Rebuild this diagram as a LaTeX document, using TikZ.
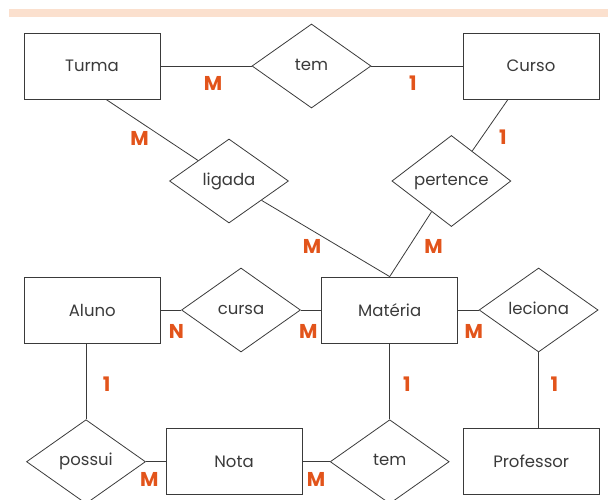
\documentclass[tikz,border=0pt]{standalone}
\usepackage{fontspec}
\setmainfont{Poppins}
\usepackage{tikz}
\usetikzlibrary{shapes.geometric,positioning}

\definecolor{bandpeach}{HTML}{FBE0CE}
\definecolor{cardorange}{HTML}{E2541B}
\definecolor{inkgray}{HTML}{3A3A3A}

\begin{document}
\begin{tikzpicture}[x=1pt,y=-1pt,node font=\fontsize{16.5}{18}\selectfont,
    entity/.style={draw=inkgray, line width=0.8pt, text=inkgray, minimum width=136pt, minimum height=66pt, inner sep=0pt},
    relation/.style={draw=inkgray, line width=0.8pt, text=inkgray, diamond, minimum width=119pt, minimum height=84pt, inner sep=0pt, text height=0.75em, text depth=0.25em},
    link/.style={draw=inkgray, line width=0.8pt},
    card/.style={text=cardorange, font=\fontsize{20}{22}\selectfont\bfseries, inner sep=0pt}]
    \useasboundingbox (0,0) rectangle (608,499);
    \clip (0,0) rectangle (608,499);
    %
    \fill[bandpeach] (8.5,9.3) rectangle (608,16.7);
    %
    % top row
    \node[entity] (turma) at (92,66) {Turma};
    \node[relation] (tem1) at (311.5,66) {tem};
    \node[entity] (curso) at (531,66) {Curso};
    %
    \node[relation] (ligada) at (229,181) {ligada};
    \node[relation] (pertence) at (451.4,181) {pertence};
    %
    % middle row
    \node[entity] (aluno) at (92.3,310) {Aluno};
    \node[relation] (cursa) at (241,310) {cursa};
    \node[entity] (materia) at (389.7,310) {Matéria};
    \node[relation] (leciona) at (538.6,310) {leciona};
    %
    % bottom row
    \node[relation] (possui) at (86,461.7) {possui};
    \node[entity] (nota) at (234,461.7) {Nota};
    \node[relation] (tem2) at (389.7,461.7) {tem};
    \node[entity] (professor) at (531.2,461.7) {Professor};
    %
    \draw[link] (turma) -- (tem1) -- (curso);
    \draw[link] ([xshift=14pt]turma.south) -- (ligada);
    \draw[link] (ligada) -- (materia.north);
    \draw[link] ([xshift=-23pt]curso.south) -- (pertence);
    \draw[link] (pertence) -- (materia.north);
    \draw[link] (aluno) -- (cursa) -- (materia) -- (leciona);
    \draw[link] (leciona.south) -- (leciona.south |- professor.north);
    \draw[link] (possui.north |- aluno.south) -- (possui.north);
    \draw[link] (materia) -- (tem2);
    \draw[link] (possui) -- (nota) -- (tem2);
    %
    % cardinalities
    \node[card] (cTurmaTem) at (213,83) {M};
    \node[card] (cCursoTem) at (413,83) {1};
    \node[card] (cTurmaLig) at (139.6,138) {M};
    \node[card] (cCursoPer) at (503,137) {1};
    \node[card] (cMatLig) at (312,246.7) {M};
    \node[card] (cMatPer) at (433.5,246.7) {M};
    \node[card] (cAlunoCur) at (176.4,331) {N};
    \node[card] (cMatCur) at (308.3,331) {M};
    \node[card] (cMatLec) at (473.8,331) {M};
    \node[card] (cAlunoPos) at (106.6,384) {1};
    \node[card] (cMatTem) at (407,384) {1};
    \node[card] (cProfLec) at (554.5,384) {1};
    \node[card] (cNotaPos) at (149.3,479) {M};
    \node[card] (cNotaTem) at (316,479) {M};
\end{tikzpicture}
\end{document}
